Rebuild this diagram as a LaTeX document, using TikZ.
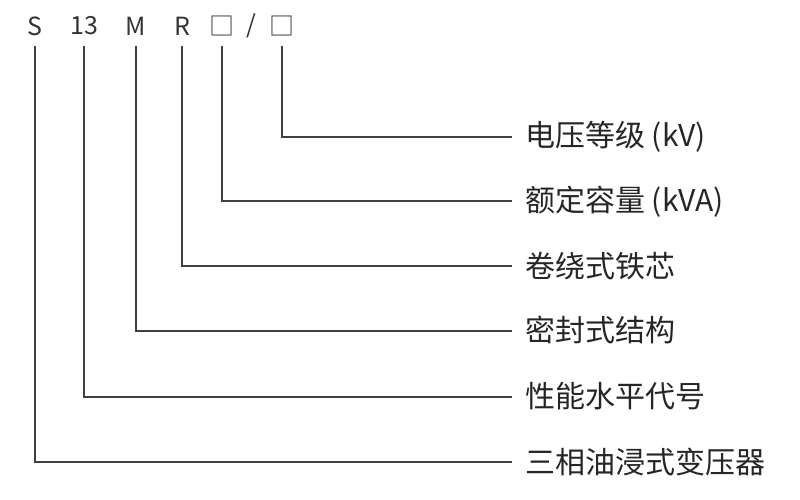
\documentclass[tikz,border=0pt]{standalone}
\usepackage{fontspec}
\setmainfont{Noto Sans CJK SC}
\begin{document}
\begin{tikzpicture}[x=1pt,y=-1pt,
  ln/.style={draw=black!75,line width=1.3pt},
  top/.style={font=\fontsize{25}{25}\selectfont,text=black!80,inner sep=0pt},
  lab/.style={font=\fontsize{30}{30}\selectfont,text=black!85,anchor=west,inner sep=0pt}]
\useasboundingbox (0,0) rectangle (800,500);
\node[top] (t1) at (35,26) {S};
\node[top] (t2) at (84,26) {13};
\node[top] (t3) at (136,26) {M};
\node[top] (t4) at (182,26) {R};
\node[top] (t5) at (222,26) {□};
\node[top] at (251,26) {/};
\node[top] (t6) at (282,26) {□};
\node[lab] (l6) at (525,137) {电压等级 (kV)};
\node[lab] (l5) at (525,202) {额定容量 (kVA)};
\node[lab] (l4) at (525,266) {卷绕式铁芯};
\node[lab] (l3) at (525,330) {密封式结构};
\node[lab] (l2) at (525,396) {性能水平代号};
\node[lab] (l1) at (525,462) {三相油浸式变压器};
\foreach \t/\l/\yy/\xx in {t1/l1/462/35,t2/l2/397/84,t3/l3/331/136,t4/l4/266/182,t5/l5/201/222,t6/l6/137/282}{
  \coordinate (a\t) at (\xx,46);
  \coordinate (b\t) at (\xx,\yy);
  \coordinate (c\t) at (512,\yy);
  \draw[ln] (a\t) -- (b\t) -- (c\t);
}
\end{tikzpicture}
\end{document}
